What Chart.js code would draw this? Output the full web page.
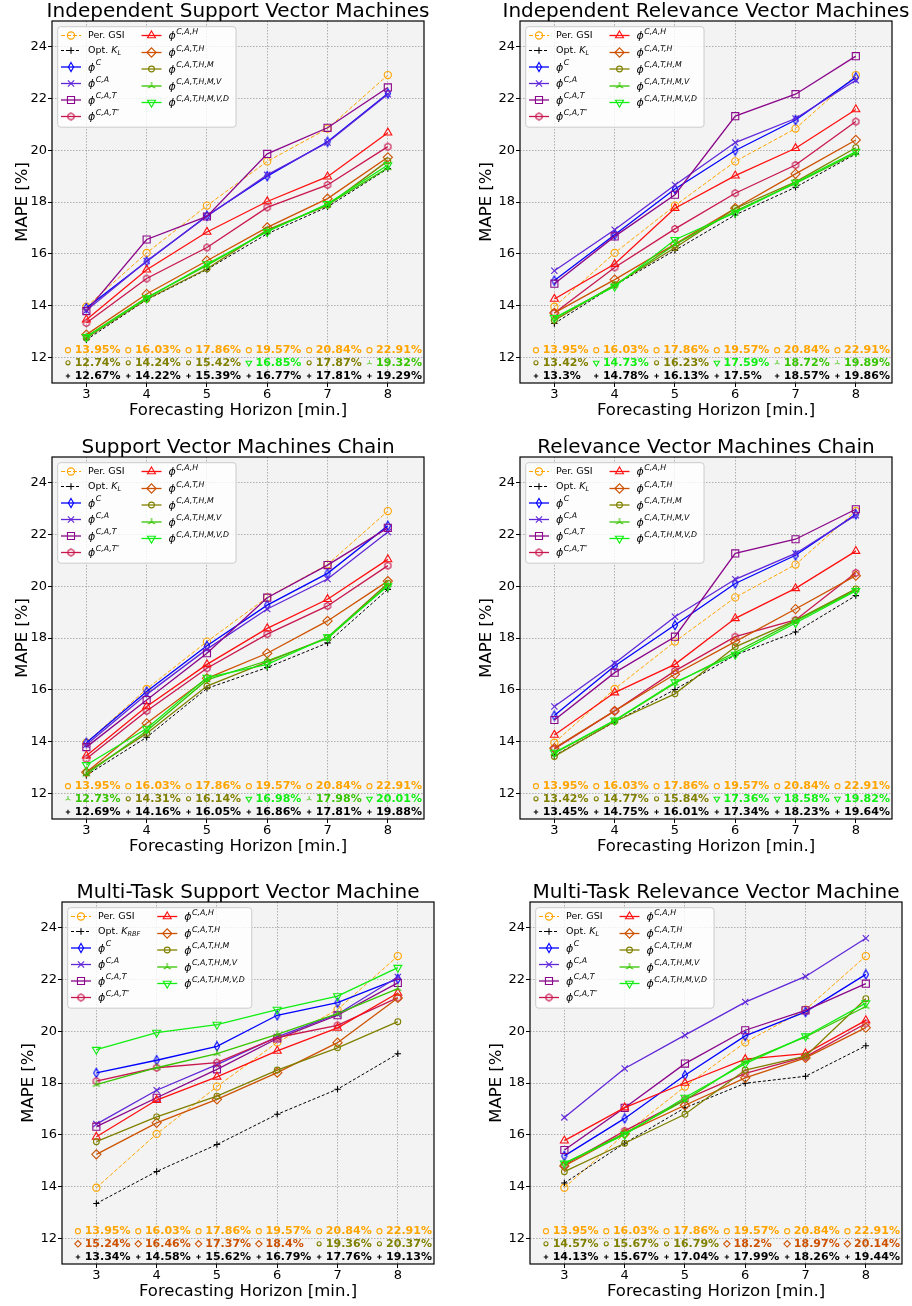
<!DOCTYPE html>
<html>
<head>
<meta charset="utf-8">
<title>MAPE by forecasting horizon</title>
<script src="https://cdn.jsdelivr.net/npm/chart.js@4.4.0/dist/chart.umd.min.js"></script>
<style>
  html, body { margin: 0; padding: 0; background: #fff; }
  #page { position: relative; width: 912px; height: 1306px; overflow: hidden; }
  #page canvas { position: absolute; }
</style>
</head>
<body>
<div id="page"></div>
<script>
// Horizons and axis ticks
const horizons = [3, 4, 5, 6, 7, 8];
const xTicks = [3, 4, 5, 6, 7, 8];
const yTicks = [12, 14, 16, 18, 20, 22, 24];

// Persistence baseline, same for every panel
const perGsi = [13.95, 16.03, 17.86, 19.57, 20.84, 22.91];

// Feature-set names used in the legends (superscript of phi)
const modelLabels = ['C', 'C,A', 'C,A,T', 'C,A,T\u2033', 'C,A,H', 'C,A,T,H', 'C,A,T,H,M', 'C,A,T,H,M,V', 'C,A,T,H,M,V,D'];

// Rows: Opt. K, then the nine phi feature sets in modelLabels order
const indepSvm = [
  [12.67, 14.22, 15.39, 16.77, 17.81, 19.29],
  [13.90, 15.70, 17.47, 19.00, 20.33, 22.20],
  [13.80, 15.72, 17.45, 19.05, 20.30, 22.17],
  [13.78, 16.55, 17.44, 19.86, 20.87, 22.43],
  [13.32, 15.04, 16.24, 17.79, 18.66, 20.14],
  [13.45, 15.38, 16.84, 18.02, 18.98, 20.68],
  [12.87, 14.44, 15.73, 17.02, 18.13, 19.73],
  [12.74, 14.24, 15.42, 16.92, 17.87, 19.59],
  [12.80, 14.30, 15.55, 16.88, 17.90, 19.32],
  [12.78, 14.28, 15.60, 16.85, 17.93, 19.43]
];
const indepRvm = [
  [13.30, 14.78, 16.13, 17.50, 18.57, 19.86],
  [14.96, 16.73, 18.50, 19.99, 21.17, 22.82],
  [15.34, 16.93, 18.66, 20.30, 21.23, 22.71],
  [14.84, 16.67, 18.28, 21.32, 22.17, 23.64],
  [13.71, 15.47, 16.96, 18.34, 19.43, 21.11],
  [14.25, 15.60, 17.76, 19.02, 20.08, 21.58],
  [13.71, 15.00, 16.37, 17.76, 19.09, 20.40],
  [13.42, 14.80, 16.23, 17.75, 18.78, 20.10],
  [13.50, 14.78, 16.35, 17.65, 18.72, 19.89],
  [13.52, 14.73, 16.54, 17.59, 18.75, 19.95]
];
const chainSvm = [
  [12.69, 14.16, 16.05, 16.86, 17.81, 19.88],
  [13.95, 15.93, 17.70, 19.27, 20.50, 22.34],
  [13.87, 15.82, 17.57, 19.12, 20.28, 22.10],
  [13.78, 15.60, 17.41, 19.56, 20.82, 22.26],
  [13.33, 15.18, 16.83, 18.15, 19.24, 20.80],
  [13.45, 15.35, 16.98, 18.37, 19.50, 21.04],
  [12.81, 14.70, 16.44, 17.41, 18.66, 20.20],
  [12.80, 14.31, 16.14, 17.08, 18.02, 20.12],
  [12.73, 14.40, 16.38, 17.12, 17.98, 20.05],
  [13.09, 14.50, 16.47, 16.98, 18.03, 20.01]
];
const chainRvm = [
  [13.45, 14.75, 16.01, 17.34, 18.23, 19.64],
  [15.00, 16.92, 18.50, 20.11, 21.20, 22.78],
  [15.35, 17.02, 18.82, 20.27, 21.27, 22.75],
  [14.83, 16.66, 18.05, 21.27, 21.82, 22.98],
  [13.71, 15.18, 16.73, 18.05, 18.70, 20.52],
  [14.25, 15.89, 16.98, 18.76, 19.92, 21.36],
  [13.74, 15.18, 16.60, 17.86, 19.12, 20.41],
  [13.42, 14.77, 15.84, 17.66, 18.68, 19.90],
  [13.55, 14.80, 16.25, 17.45, 18.65, 19.85],
  [13.57, 14.82, 16.29, 17.36, 18.58, 19.82]
];
const multiSvm = [
  [13.34, 14.58, 15.62, 16.79, 17.76, 19.13],
  [18.39, 18.88, 19.42, 20.62, 21.11, 22.03],
  [16.41, 17.72, 18.71, 19.78, 20.66, 22.10],
  [16.31, 17.43, 18.53, 19.72, 20.62, 21.87],
  [18.07, 18.59, 18.79, 19.76, 20.23, 21.30],
  [15.92, 17.34, 18.24, 19.24, 20.13, 21.48],
  [15.24, 16.46, 17.37, 18.40, 19.56, 21.29],
  [15.73, 16.69, 17.49, 18.50, 19.36, 20.37],
  [17.94, 18.59, 19.14, 19.88, 20.68, 21.65],
  [19.29, 19.95, 20.26, 20.84, 21.36, 22.46]
];
const multiRvm = [
  [14.13, 15.67, 17.04, 17.99, 18.26, 19.44],
  [15.18, 16.63, 18.30, 19.82, 20.75, 22.20],
  [16.67, 18.56, 19.85, 21.13, 22.12, 23.60],
  [15.41, 17.04, 18.75, 20.04, 20.81, 21.84],
  [14.83, 16.15, 17.36, 18.37, 19.01, 20.30],
  [15.77, 17.05, 18.00, 18.92, 19.14, 20.42],
  [14.79, 16.05, 17.14, 18.20, 18.97, 20.14],
  [14.57, 15.67, 16.79, 18.50, 19.04, 21.26],
  [14.89, 16.05, 17.34, 18.82, 19.78, 20.96],
  [14.89, 16.00, 17.44, 18.75, 19.81, 21.09]
];

// ---- colours and markers ----
const colGsi = '#ffa500', colOpt = '#000000', colC = '#0000ff', colCA = '#6027d8',
      colCAT = '#8a068a', colCATpp = '#c8174e', colCAH = '#ff1010', colCATH = '#cd5200',
      colM = '#808000', colV = '#37c500', colD = '#11ee11';

function markerImage(size, paint) {
  const c = document.createElement('canvas');
  c.width = size; c.height = size;
  const g = c.getContext('2d');
  g.lineWidth = 1.1;
  paint(g, size / 2);
  return c;
}
const thinDiamond = markerImage(12, (g, m) => {
  g.strokeStyle = colC;
  g.beginPath();
  g.moveTo(m, m - 4.6); g.lineTo(m + 2.6, m); g.lineTo(m, m + 4.6); g.lineTo(m - 2.6, m);
  g.closePath(); g.stroke();
});
const hexagon = markerImage(12, (g, m) => {
  g.strokeStyle = colCATpp;
  g.beginPath();
  for (let k = 0; k < 6; k++) {
    const t = -Math.PI / 2 + k * Math.PI / 3;
    g.lineTo(m + 3.5 * Math.cos(t), m + 3.5 * Math.sin(t));
  }
  g.closePath(); g.stroke();
});
const triUp = markerImage(12, (g, m) => {
  g.strokeStyle = colV;
  g.beginPath();
  [90, 210, 330].forEach(d => {
    const t = d * Math.PI / 180;
    g.moveTo(m, m); g.lineTo(m + 4 * Math.cos(t), m - 4 * Math.sin(t));
  });
  g.stroke();
});

const gsiStyle = { color: colGsi, dash: [4, 2], lw: 1, marker: 'circle', r: 3.6 };
const seriesStyles = [
  { color: colOpt, dash: [3, 2], lw: 1, marker: 'cross', r: 3.2 },
  { color: colC, lw: 1.3, marker: thinDiamond },
  { color: colCA, lw: 1.3, marker: 'crossRot', r: 4.4 },
  { color: colCAT, lw: 1.3, marker: 'rect', r: 5 },
  { color: colCATpp, lw: 1.3, marker: hexagon },
  { color: colCAH, lw: 1.3, marker: 'triangle', r: 4.6 },
  { color: colCATH, lw: 1.3, marker: 'rectRot', r: 4.6 },
  { color: colM, lw: 1.3, marker: 'circle', r: 2.9 },
  { color: colV, lw: 1.3, marker: triUp },
  { color: colD, lw: 1.3, marker: 'triangle', r: 4.6, rot: 180 }
];

// ---- panel layout ----
const panels = [
  { title: 'Independent Support Vector Machines', rows: indepSvm, optSub: 'L', left: 0,   top: 0,   w: 456, h: 435, yW: 52, padR: 32, padT: 21, titleY: 17.3, xH: 52, xTitlePad: 14.4, yTitlePad: 12.5 },
  { title: 'Independent Relevance Vector Machines', rows: indepRvm, optSub: 'L', left: 456, top: 0,   w: 456, h: 435, yW: 64, padR: 20, padT: 21, titleY: 17.3, xH: 52, xTitlePad: 14.4, yTitlePad: 21 },
  { title: 'Support Vector Machines Chain', rows: chainSvm, optSub: 'L', left: 0,   top: 435, w: 456, h: 435, yW: 52, padR: 32, padT: 22, titleY: 17.8, xH: 51, xTitlePad: 13.4, yTitlePad: 12.5 },
  { title: 'Relevance Vector Machines Chain', rows: chainRvm, optSub: 'L', left: 456, top: 435, w: 456, h: 435, yW: 64, padR: 20, padT: 22, titleY: 17.8, xH: 51, xTitlePad: 13.4, yTitlePad: 21 },
  { title: 'Multi-Task Support Vector Machine', rows: multiSvm, optSub: 'RBF', left: 0,   top: 870, w: 456, h: 436, yW: 62, padR: 22, padT: 32, titleY: 27.7, xH: 42, xTitlePad: 4.3, yTitlePad: 19 },
  { title: 'Multi-Task Relevance Vector Machine', rows: multiRvm, optSub: 'L', left: 456, top: 870, w: 456, h: 436, yW: 74, padR: 10, padT: 32, titleY: 27.7, xH: 42, xTitlePad: 4.3, yTitlePad: 31 }
];

Chart.defaults.font.family = '"DejaVu Sans", sans-serif';
Chart.defaults.color = '#000';

// lowest phi model at horizon i (row 0 is the optimal kernel, skipped)
function bestModel(rows, i) {
  let best = 1;
  for (let k = 2; k < rows.length; k++) if (rows[k][i] < rows[best][i]) best = k;
  return best;
}

function drawMarker(ctx, s, x, y, k) {
  ctx.save();
  ctx.setLineDash([]);
  ctx.strokeStyle = s.color;
  ctx.fillStyle = 'rgba(0,0,0,0)';
  ctx.lineWidth = 1.1;
  if (typeof s.marker === 'string') {
    Chart.helpers.drawPoint(ctx, { pointStyle: s.marker, radius: s.r * k, rotation: s.rot || 0, borderWidth: 1 }, x, y);
  } else {
    const c = s.marker;
    ctx.drawImage(c, x - c.width * k / 2, y - c.height * k / 2, c.width * k, c.height * k);
  }
  ctx.restore();
}

// mathtext-like label: plain text, italic symbol with subscript, or phi with superscript
function drawLabel(ctx, lab, x, y, measureOnly) {
  let cx = x;
  const put = (txt, font, dy) => {
    ctx.font = font;
    if (!measureOnly) ctx.fillText(txt, cx, y + dy);
    cx += ctx.measureText(txt).width;
  };
  if (lab.text) put(lab.text, '9.5px "DejaVu Sans"', 0);
  if (lab.italic) put(lab.italic, 'italic 9.5px "DejaVu Sans"', 0);
  if (lab.sub) put(lab.sub, 'italic 6.5px "DejaVu Sans"', 2.8);
  if (lab.phi) {
    put('\u03d5', 'italic 11px "DejaVu Sans"', 1);
    cx += 0.6;
    put(lab.phi, 'italic 7.8px "DejaVu Sans"', -3.8);
  }
  return cx - x;
}

const panelBackground = {
  id: 'panelBackground',
  beforeDraw(chart) {
    const { ctx, chartArea: a } = chart;
    ctx.save();
    ctx.fillStyle = '#fff';
    ctx.fillRect(0, 0, chart.width, chart.height);
    ctx.fillStyle = '#f3f3f3';
    ctx.fillRect(a.left, a.top, a.right - a.left, a.bottom - a.top);
    ctx.restore();
  }
};

const panelDecor = {
  id: 'panelDecor',
  afterDatasetsDraw(chart, args, opts) {
    const { ctx, chartArea: a, scales: { x, y } } = chart;
    const rows = opts.rows;
    // value rows at the bottom: Per. GSI, best phi model, optimal kernel
    ctx.save();
    ctx.textBaseline = 'middle';
    ctx.textAlign = 'left';
    horizons.forEach((h, i) => {
      const px = x.getPixelForValue(h);
      const best = bestModel(rows, i);
      const lines = [
        { v: perGsi[i], s: gsiStyle, at: 12.27 },
        { v: rows[best][i], s: seriesStyles[best], at: 11.78 },
        { v: rows[0][i], s: seriesStyles[0], at: 11.27 }
      ];
      lines.forEach(l => {
        const py = y.getPixelForValue(l.at);
        drawMarker(ctx, l.s, px - 18.4, py, 0.7);
        ctx.fillStyle = l.s.color;
        ctx.font = 'bold 11px "DejaVu Sans"';
        ctx.fillText(String(l.v) + '%', px - 11.7, py);
      });
    });
    ctx.restore();

    // legend, two columns
    const entries = [
      { label: { text: 'Per. GSI' }, s: gsiStyle },
      { label: { text: 'Opt. ', italic: 'K', sub: opts.optSub }, s: seriesStyles[0] }
    ].concat(modelLabels.map((m, k) => ({ label: { phi: m }, s: seriesStyles[k + 1] })));
    const col1 = entries.slice(0, 6), col2 = entries.slice(6);
    ctx.save();
    ctx.textBaseline = 'middle';
    const w1 = Math.max(...col1.map(e => drawLabel(ctx, e.label, 0, 0, true)));
    const w2 = Math.max(...col2.map(e => drawLabel(ctx, e.label, 0, 0, true)));
    const bx = a.left + 5.7, by = a.top + 5.7;
    const h1 = bx + 3.3, t1 = h1 + 27;
    const h2 = t1 + w1 + 17, t2 = h2 + 27;
    const bw = t2 + w2 + 7 - bx, bh = 100.5;
    ctx.beginPath();
    ctx.roundRect(bx, by, bw, bh, 3);
    ctx.fillStyle = 'rgba(255,255,255,0.8)';
    ctx.fill();
    ctx.strokeStyle = '#cccccc';
    ctx.lineWidth = 1;
    ctx.stroke();
    const rows1 = [14.5, 29.5, 46, 62.5, 79, 95.5];
    const rows2 = [14.5, 31.5, 48, 65, 81.5];
    const drawEntry = (e, hx, tx, ry) => {
      const yy = a.top + ry;
      ctx.save();
      ctx.strokeStyle = e.s.color;
      ctx.lineWidth = e.s.lw;
      ctx.setLineDash(e.s.dash || []);
      ctx.beginPath();
      ctx.moveTo(hx, yy); ctx.lineTo(hx + 20, yy);
      ctx.stroke();
      ctx.restore();
      drawMarker(ctx, e.s, hx + 10, yy, 1);
      ctx.fillStyle = '#000';
      drawLabel(ctx, e.label, tx, yy, false);
    };
    col1.forEach((e, k) => drawEntry(e, h1, t1, rows1[k]));
    col2.forEach((e, k) => drawEntry(e, h2, t2, rows2[k]));
    ctx.restore();
  },
  afterDraw(chart, args, opts) {
    const { ctx, chartArea: a } = chart;
    ctx.save();
    ctx.strokeStyle = '#000';
    ctx.lineWidth = 1.2;
    ctx.strokeRect(a.left, a.top, a.right - a.left, a.bottom - a.top);
    // panel title, centred on the axes
    ctx.fillStyle = '#000';
    ctx.font = '20px "DejaVu Sans"';
    ctx.textAlign = 'center';
    ctx.textBaseline = 'alphabetic';
    ctx.fillText(opts.title, (a.left + a.right) / 2, opts.titleY);
    ctx.restore();
  }
};

function lineDataset(label, values, s, idx) {
  return {
    label: label,
    data: horizons.map((h, i) => ({ x: h, y: values[i] })),
    borderColor: s.color,
    borderWidth: s.lw,
    borderDash: s.dash || [],
    tension: 0,
    fill: false,
    pointStyle: s.marker,
    pointRadius: s.r || 4,
    pointRotation: s.rot || 0,
    pointBorderColor: s.color,
    pointBackgroundColor: 'rgba(0,0,0,0)',
    pointBorderWidth: 1.1,
    order: -idx
  };
}

const gridStyle = { color: 'rgba(140,140,140,0.65)', lineWidth: 1, tickLength: 4, tickColor: '#000', tickWidth: 1 };

const page = document.getElementById('page');
panels.forEach(p => {
  const cv = document.createElement('canvas');
  cv.width = p.w; cv.height = p.h;
  cv.style.left = p.left + 'px';
  cv.style.top = p.top + 'px';
  page.appendChild(cv);

  const datasets = [lineDataset('Per. GSI', perGsi, gsiStyle, 0)];
  p.rows.forEach((vals, k) => {
    const name = k === 0 ? 'Opt. K' + p.optSub : '\u03d5' + modelLabels[k - 1];
    datasets.push(lineDataset(name, vals, seriesStyles[k], k + 1));
  });

  new Chart(cv, {
    type: 'line',
    data: { datasets },
    options: {
      responsive: false,
      animation: false,
      events: [],
      layout: { padding: { left: 0, top: p.padT, right: p.padR, bottom: 0 } },
      plugins: {
        legend: { display: false },
        tooltip: { enabled: false },
        panelDecor: { rows: p.rows, optSub: p.optSub, title: p.title, titleY: p.titleY }
      },
      scales: {
        x: {
          type: 'linear', min: 2.43, max: 8.6,
          afterBuildTicks: s => { s.ticks = xTicks.map(v => ({ value: v })); },
          afterFit: s => { s.height = p.xH; },
          grid: gridStyle,
          border: { display: false, dash: [1.5, 1.5] },
          ticks: { color: '#000', font: { size: 13 }, padding: 0, maxRotation: 0 },
          title: { display: true, text: 'Forecasting Horizon [min.]', color: '#000',
                   font: { size: 16.5, lineHeight: 1.2 }, padding: { top: 0, bottom: p.xTitlePad } }
        },
        y: {
          min: 11, max: 25,
          afterBuildTicks: s => { s.ticks = yTicks.map(v => ({ value: v })); },
          afterFit: s => { s.width = p.yW; },
          grid: gridStyle,
          border: { display: false, dash: [1.5, 1.5] },
          ticks: { color: '#000', font: { size: 13 }, padding: 1 },
          title: { display: true, text: 'MAPE [%]', color: '#000',
                   font: { size: 16.5, lineHeight: 1.2 }, padding: { top: p.yTitlePad, bottom: 0 } }
        }
      }
    },
    plugins: [panelBackground, panelDecor]
  });
});
</script>
</body>
</html>
